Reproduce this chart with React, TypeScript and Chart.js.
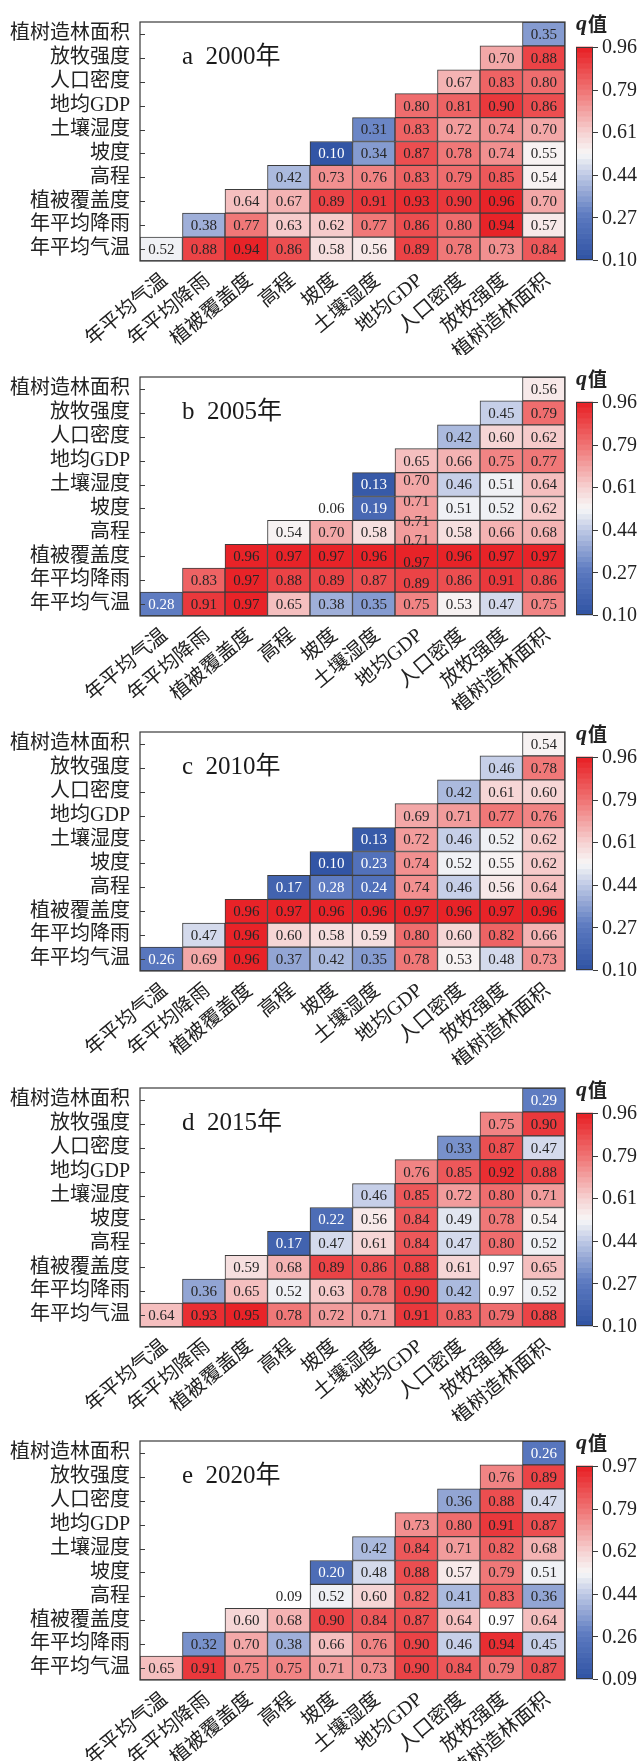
import React, { useEffect, useRef } from 'react';
import { Chart, registerables } from 'chart.js';

Chart.register(...registerables);

// ---------- data ----------
const FACTORS = ['年平均气温', '年平均降雨', '植被覆盖度', '高程', '坡度', '土壤湿度', '地均GDP', '人口密度', '放牧强度', '植树造林面积'];

// rows from bottom (年平均气温) to top (植树造林面积); row r holds columns r..9
const Q_2000 = [
  [0.52, 0.88, 0.94, 0.86, 0.58, 0.56, 0.89, 0.78, 0.73, 0.84],
  [0.38, 0.77, 0.63, 0.62, 0.77, 0.86, 0.80, 0.94, 0.57],
  [0.64, 0.67, 0.89, 0.91, 0.93, 0.90, 0.96, 0.70],
  [0.42, 0.73, 0.76, 0.83, 0.79, 0.85, 0.54],
  [0.10, 0.34, 0.87, 0.78, 0.74, 0.55],
  [0.31, 0.83, 0.72, 0.74, 0.70],
  [0.80, 0.81, 0.90, 0.86],
  [0.67, 0.83, 0.80],
  [0.70, 0.88],
  [0.35],
];
const Q_2005 = [
  [0.28, 0.91, 0.97, 0.65, 0.38, 0.35, 0.75, 0.53, 0.47, 0.75],
  [0.83, 0.97, 0.88, 0.89, 0.87, 0.89, 0.86, 0.91, 0.86],
  [0.96, 0.97, 0.97, 0.96, 0.97, 0.96, 0.97, 0.97],
  [0.54, 0.70, 0.58, 0.71, 0.58, 0.66, 0.68],
  [0.06, 0.19, 0.71, 0.51, 0.52, 0.62],
  [0.13, 0.70, 0.46, 0.51, 0.64],
  [0.65, 0.66, 0.75, 0.77],
  [0.42, 0.60, 0.62],
  [0.45, 0.79],
  [0.56],
];
const Q_2010 = [
  [0.26, 0.69, 0.96, 0.37, 0.42, 0.35, 0.78, 0.53, 0.48, 0.73],
  [0.47, 0.96, 0.60, 0.58, 0.59, 0.80, 0.60, 0.82, 0.66],
  [0.96, 0.97, 0.96, 0.96, 0.97, 0.96, 0.97, 0.96],
  [0.17, 0.28, 0.24, 0.74, 0.46, 0.56, 0.64],
  [0.10, 0.23, 0.74, 0.52, 0.55, 0.62],
  [0.13, 0.72, 0.46, 0.52, 0.62],
  [0.69, 0.71, 0.77, 0.76],
  [0.42, 0.61, 0.60],
  [0.46, 0.78],
  [0.54],
];
const Q_2015 = [
  [0.64, 0.93, 0.95, 0.78, 0.72, 0.71, 0.91, 0.83, 0.79, 0.88],
  [0.36, 0.65, 0.52, 0.63, 0.78, 0.90, 0.42, 0.97, 0.52],
  [0.59, 0.68, 0.89, 0.86, 0.88, 0.61, 0.97, 0.65],
  [0.17, 0.47, 0.61, 0.84, 0.47, 0.80, 0.52],
  [0.22, 0.56, 0.84, 0.49, 0.78, 0.54],
  [0.46, 0.85, 0.72, 0.80, 0.71],
  [0.76, 0.85, 0.92, 0.88],
  [0.33, 0.87, 0.47],
  [0.75, 0.90],
  [0.29],
];
const Q_2020 = [
  [0.65, 0.91, 0.75, 0.75, 0.71, 0.73, 0.90, 0.84, 0.79, 0.87],
  [0.32, 0.70, 0.38, 0.66, 0.76, 0.90, 0.46, 0.94, 0.45],
  [0.60, 0.68, 0.90, 0.84, 0.87, 0.64, 0.97, 0.64],
  [0.09, 0.52, 0.60, 0.82, 0.41, 0.83, 0.36],
  [0.20, 0.48, 0.88, 0.57, 0.79, 0.51],
  [0.42, 0.84, 0.71, 0.82, 0.68],
  [0.73, 0.80, 0.91, 0.87],
  [0.36, 0.88, 0.47],
  [0.76, 0.89],
  [0.26],
];

// cells outside the colour range (drawn without fill): [row, col]
const BLANK_2000: number[][] = [];
const BLANK_2005 = [[4, 4]];
const BLANK_2010: number[][] = [];
const BLANK_2015 = [[1, 8], [2, 8]];
const BLANK_2020 = [[2, 8], [3, 3]];

const CB_TICKS_2000 = ['0.10', '0.27', '0.44', '0.61', '0.79', '0.96'];
const CB_TICKS_2005 = ['0.10', '0.27', '0.44', '0.61', '0.79', '0.96'];
const CB_TICKS_2010 = ['0.10', '0.27', '0.44', '0.61', '0.79', '0.96'];
const CB_TICKS_2015 = ['0.10', '0.27', '0.44', '0.61', '0.79', '0.96'];
const CB_TICKS_2020 = ['0.09', '0.26', '0.44', '0.62', '0.79', '0.97'];

const CB_RANGE_2000 = [0.10, 0.96];
const CB_RANGE_2005 = [0.10, 0.96];
const CB_RANGE_2010 = [0.10, 0.96];
const CB_RANGE_2015 = [0.10, 0.96];
const CB_RANGE_2020 = [0.09, 0.97];

const TITLES = ['a  2000年', 'b  2005年', 'c  2010年', 'd  2015年', 'e  2020年'];

const PANELS = [
  { title: TITLES[0], rows: Q_2000, blank: BLANK_2000, ticks: CB_TICKS_2000, range: CB_RANGE_2000 },
  { title: TITLES[1], rows: Q_2005, blank: BLANK_2005, ticks: CB_TICKS_2005, range: CB_RANGE_2005 },
  { title: TITLES[2], rows: Q_2010, blank: BLANK_2010, ticks: CB_TICKS_2010, range: CB_RANGE_2010 },
  { title: TITLES[3], rows: Q_2015, blank: BLANK_2015, ticks: CB_TICKS_2015, range: CB_RANGE_2015 },
  { title: TITLES[4], rows: Q_2020, blank: BLANK_2020, ticks: CB_TICKS_2020, range: CB_RANGE_2020 },
];

// ---------- styling ----------
const FONT = "'Liberation Serif', 'Noto Sans CJK SC', serif";
const CANVAS_W = 641;
const CANVAS_H = 355;
const PANEL_TOPS = [0, 355, 710, 1066, 1419];
const NBANDS = 40;
const STOPS: [number, number[]][] = [
  [0, [50, 85, 165]],
  [0.2, [92, 122, 192]],
  [0.4, [192, 202, 230]],
  [0.5, [247, 247, 247]],
  [0.6, [246, 210, 210]],
  [0.8, [240, 118, 118]],
  [1, [232, 35, 40]],
];

function cmap(t: number): string {
  t = Math.max(0, Math.min(1, t));
  for (let i = 1; i < STOPS.length; i++) {
    const [t1, c1] = STOPS[i];
    const [t0, c0] = STOPS[i - 1];
    if (t <= t1) {
      const f = (t - t0) / (t1 - t0);
      const c = c0.map((v, k) => Math.round(v + (c1[k] - v) * f));
      return `rgb(${c[0]},${c[1]},${c[2]})`;
    }
  }
  const c = STOPS[STOPS.length - 1][1];
  return `rgb(${c[0]},${c[1]},${c[2]})`;
}
function bandColor(k: number) {
  return cmap(k / (NBANDS - 1));
}
function valueColor(v: number, lo: number, hi: number) {
  let k = Math.floor(((v - lo) / (hi - lo)) * NBANDS);
  k = Math.max(0, Math.min(NBANDS - 1, k));
  return bandColor(k);
}

type Panel = typeof PANELS[number];

function cellValue(p: Panel, r: number, j: number): number | null {
  if (j < r) return null;
  return p.rows[r][j - r];
}
function isBlank(p: Panel, r: number, j: number) {
  return p.blank.some(([br, bc]) => br === r && bc === j);
}

// quirky label offsets in panel b (地均GDP column)
const SHIFT_B: Record<string, number> = { '5,6': -4, '4,6': -7, '3,6': -11, '2,6': 6, '1,6': 3 };

function makePlugin(p: Panel, idx: number) {
  return {
    id: 'heatDecor' + idx,
    afterDatasetsDraw(chart: any) {
      const ctx: CanvasRenderingContext2D = chart.ctx;
      const area = chart.chartArea;
      const xs = chart.scales.x;
      ctx.save();
      // cell labels
      ctx.textAlign = 'center';
      ctx.textBaseline = 'middle';
      ctx.font = `15px ${FONT}`;
      for (let r = 0; r < FACTORS.length; r++) {
        const meta = chart.getDatasetMeta(r);
        for (let j = r; j < FACTORS.length; j++) {
          const v = cellValue(p, r, j);
          if (v == null) continue;
          const el = meta.data[j];
          const cx = el.x;
          let cy = (el.y + el.base) / 2;
          if (idx === 1 && SHIFT_B[`${r},${j}`] !== undefined) cy += SHIFT_B[`${r},${j}`];
          ctx.fillStyle = v < 0.3 && !isBlank(p, r, j) ? '#ffffff' : '#262626';
          ctx.fillText(v.toFixed(2), cx, cy + 1);
          if (idx === 1 && r === 2 && j === 6) {
            ctx.fillStyle = '#262626';
            ctx.fillText('0.71', cx, (el.y + el.base) / 2 - 15);
          }
        }
      }
      // frame
      ctx.strokeStyle = '#3a3a3a';
      ctx.lineWidth = 1.2;
      ctx.strokeRect(area.left, area.top, area.right - area.left, area.bottom - area.top);
      // inward y ticks
      const ys = chart.scales.y;
      ctx.lineWidth = 1;
      ctx.beginPath();
      for (let i = 0; i < FACTORS.length; i++) {
        const y = Math.round(ys.getPixelForValue(i + 0.5)) + 0.5;
        ctx.moveTo(area.left, y);
        ctx.lineTo(area.left + 5, y);
      }
      ctx.stroke();
      // x labels rotated
      ctx.font = `20px ${FONT}`;
      ctx.fillStyle = '#222';
      ctx.textAlign = 'right';
      ctx.textBaseline = 'middle';
      FACTORS.forEach((lab, j) => {
        const x = xs.getPixelForValue(j);
        ctx.save();
        ctx.translate(x + 4, area.bottom + 17);
        ctx.rotate((-40 * Math.PI) / 180);
        ctx.fillText(lab, 0, 0);
        ctx.restore();
      });
      // title
      ctx.font = `25px ${FONT}`;
      ctx.textAlign = 'left';
      ctx.textBaseline = 'alphabetic';
      ctx.fillStyle = '#1a1a1a';
      ctx.fillText(p.title, area.left + 42, area.top + 42);
      // colorbar
      const cbL = 576, cbR = 593;
      const cbT = area.top + 25, cbB = area.bottom - 1;
      const bh = (cbB - cbT) / NBANDS;
      for (let k = 0; k < NBANDS; k++) {
        ctx.fillStyle = bandColor(k);
        ctx.fillRect(cbL, cbB - (k + 1) * bh - 0.3, cbR - cbL, bh + 0.6);
      }
      ctx.strokeStyle = '#3a3a3a';
      ctx.lineWidth = 1;
      ctx.strokeRect(cbL + 0.5, cbT + 0.5, cbR - cbL - 1, cbB - cbT - 1);
      ctx.font = `20px ${FONT}`;
      ctx.fillStyle = '#222';
      ctx.textAlign = 'left';
      ctx.textBaseline = 'middle';
      ctx.beginPath();
      p.ticks.forEach((t, i) => {
        const y = cbB - (i * (cbB - cbT)) / (p.ticks.length - 1);
        ctx.moveTo(cbR, Math.round(y) + 0.5);
        ctx.lineTo(cbR + 5, Math.round(y) + 0.5);
        ctx.fillText(t, cbR + 9, y + 1);
      });
      ctx.stroke();
      // q值
      ctx.textBaseline = 'alphabetic';
      ctx.font = `bold italic 22px ${FONT}`;
      ctx.fillText('q', cbL, area.top + 8);
      const qw = ctx.measureText('q').width;
      ctx.font = `bold 19px ${FONT}`;
      ctx.fillText('值', cbL + qw + 1, area.top + 9);
      ctx.restore();
    },
  };
}

function HeatPanel({ idx }: { idx: number }) {
  const ref = useRef<HTMLCanvasElement | null>(null);
  useEffect(() => {
    const p = PANELS[idx];
    const [lo, hi] = p.range;
    const datasets = FACTORS.map((name, r) => ({
      label: name,
      data: FACTORS.map(() => 1),
      backgroundColor: FACTORS.map((_, j) => {
        const v = cellValue(p, r, j);
        if (v == null || isBlank(p, r, j)) return 'rgba(0,0,0,0)';
        return valueColor(v, lo, hi);
      }),
      borderColor: FACTORS.map((_, j) => (cellValue(p, r, j) == null || isBlank(p, r, j) ? 'rgba(0,0,0,0)' : '#3c3c3c')),
      borderWidth: FACTORS.map((_, j) => (cellValue(p, r, j) == null || isBlank(p, r, j) ? 0 : 1)),
      borderSkipped: false,
      barPercentage: 1,
      categoryPercentage: 1,
    }));
    const chart = new Chart(ref.current as HTMLCanvasElement, {
      type: 'bar',
      data: { labels: FACTORS, datasets },
      options: {
        responsive: false,
        animation: false,
        devicePixelRatio: 1,
        events: [],
        layout: { padding: { left: 0, right: CANVAS_W - 565, top: 10, bottom: CANVAS_H - 261 } },
        plugins: { legend: { display: false }, tooltip: { enabled: false } },
        scales: {
          x: { type: 'category', stacked: true, display: false, grid: { display: false } },
          y: {
            type: 'linear',
            stacked: true,
            min: 0,
            max: 10,
            position: 'left',
            afterBuildTicks: (s: any) => {
              s.ticks = FACTORS.map((_, i) => ({ value: i + 0.5 }));
            },
            afterFit: (s: any) => {
              s.width = 140;
            },
            grid: { display: false, drawTicks: false },
            border: { display: false },
            ticks: {
              autoSkip: false,
              padding: 10,
              color: '#222',
              font: { size: 20, family: FONT },
              callback: (v: any) => FACTORS[Math.floor(Number(v))],
            },
          },
        },
      } as any,
      plugins: [makePlugin(p, idx)],
    });
    return () => chart.destroy();
  }, [idx]);
  return (
    <canvas
      ref={ref}
      width={CANVAS_W}
      height={CANVAS_H}
      style={{ position: 'absolute', left: 0, top: PANEL_TOPS[idx], width: CANVAS_W, height: CANVAS_H }}
    />
  );
}

export default function App() {
  return (
    <div style={{ position: 'absolute', left: 0, top: 0, width: 641, height: 1761, background: '#fff' }}>
      {PANELS.map((_, i) => (
        <HeatPanel key={i} idx={i} />
      ))}
    </div>
  );
}
